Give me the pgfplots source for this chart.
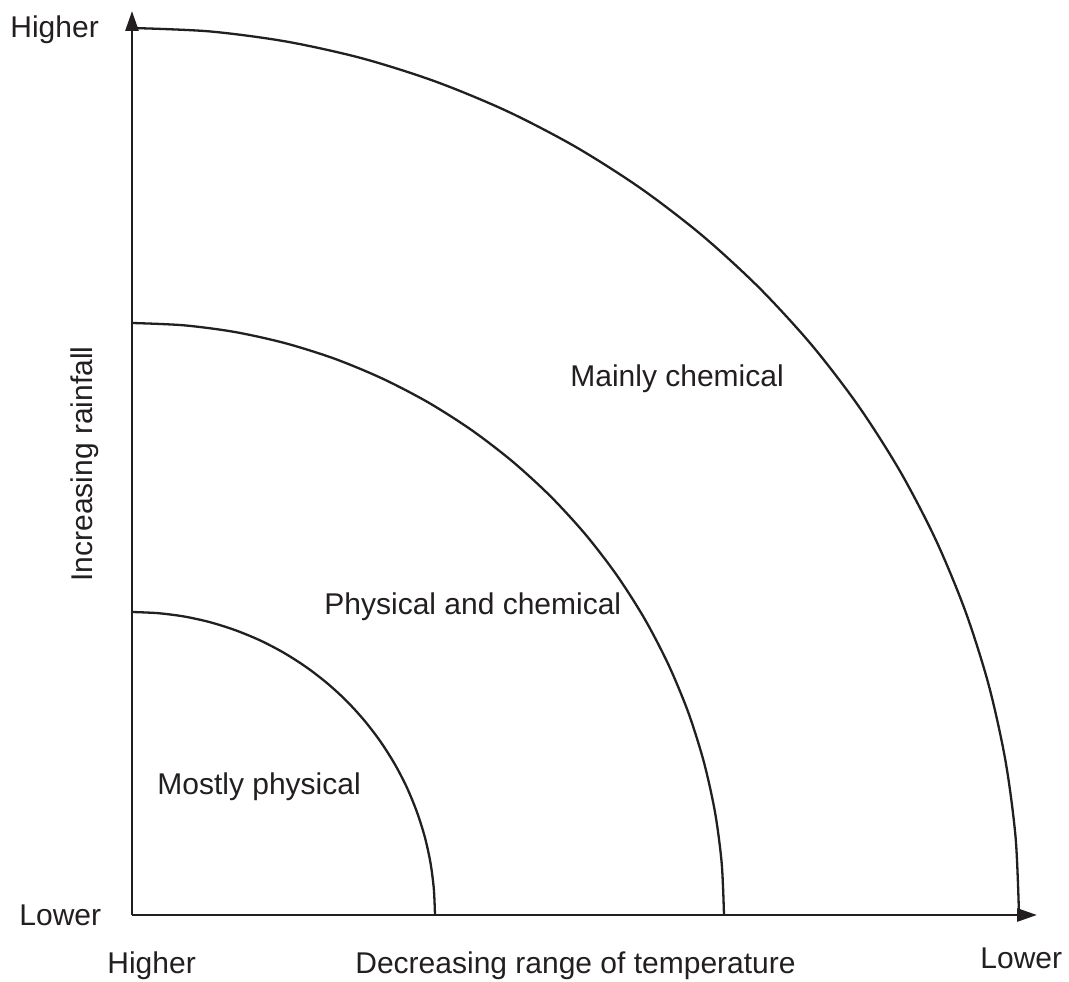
\documentclass[border=0pt]{standalone}
\usepackage{pgfplots}
\pgfplotsset{compat=1.18}
\usetikzlibrary{arrows.meta}
\usepackage{fontspec}
\setmainfont{Liberation Sans}
\definecolor{ink}{HTML}{231F20}
\tikzset{lab/.style={anchor=base west, inner sep=0pt, text=ink}}
\begin{document}
\begin{tikzpicture}
\useasboundingbox (0,0) rectangle (534.5bp,491bp);
\begin{axis}[
  at={(0,0)}, anchor=south west,
  scale only axis, width=534.5bp, height=491bp,
  xmin=-132, xmax=937, ymin=-67, ymax=915,
  hide axis, clip=false,
  every axis plot/.append style={ink, no markers},
  font=\fontsize{15bp}{18bp}\selectfont,
]
% axes
\addplot[line width=1.4bp, -{Triangle[length=10bp,width=6.5bp]}] coordinates {(0,0) (905,0)};
\addplot[line width=1.4bp, -{Triangle[length=10bp,width=6.5bp]}] coordinates {(0,0) (0,904)};
% inner arc
\addplot[line width=1.15bp, smooth] coordinates {
(303,0) (301.8,26.4) (298.4,52.6) (292.7,78.4) (284.7,103.6) (274.6,128.1) (262.4,151.5)
(248.2,173.8) (232.1,194.8) (214.3,214.3) (194.8,232.1) (173.8,248.2) (151.5,262.4)
(128.1,274.6) (103.6,284.7) (78.4,292.7) (52.6,298.4) (26.4,301.8) (0,303)};
% middle arc
\addplot[line width=1.15bp, smooth] coordinates {
(592,0) (589.7,51.6) (583.0,102.8) (571.8,153.2) (556.3,202.5) (536.5,250.2) (512.7,296.0)
(484.9,339.6) (453.5,380.5) (418.6,418.6) (380.5,453.5) (339.6,484.9) (296.0,512.7)
(250.2,536.5) (202.5,556.3) (153.2,571.8) (102.8,583.0) (51.6,589.7) (0,592)};
% outer arc
\addplot[line width=1.15bp, smooth] coordinates {
(887,0) (883.6,77.3) (873.5,154.0) (856.8,229.6) (833.5,303.4) (803.9,374.9) (768.2,443.5)
(726.6,508.8) (679.5,570.2) (627.2,627.2) (570.2,679.5) (508.8,726.6) (443.5,768.2)
(374.9,803.9) (303.4,833.5) (229.6,856.8) (154.0,873.5) (77.3,883.6) (0,887)};
% labels
\node[lab] at (axis cs:-122,877) {Higher};
\node[lab] at (axis cs:-113,-10) {Lower};
\node[lab] at (axis cs:-25,-58) {Higher};
\node[lab] at (axis cs:223,-58) {Decreasing range of temperature};
\node[lab] at (axis cs:848,-53) {Lower};
\node[anchor=base, rotate=90, inner sep=0pt, text=ink] at (axis cs:-40,451) {Increasing rainfall};
\node[lab] at (axis cs:25,120) {Mostly physical};
\node[lab] at (axis cs:192,300) {Physical and chemical};
\node[lab] at (axis cs:438,528) {Mainly chemical};
\end{axis}
\end{tikzpicture}
\end{document}
